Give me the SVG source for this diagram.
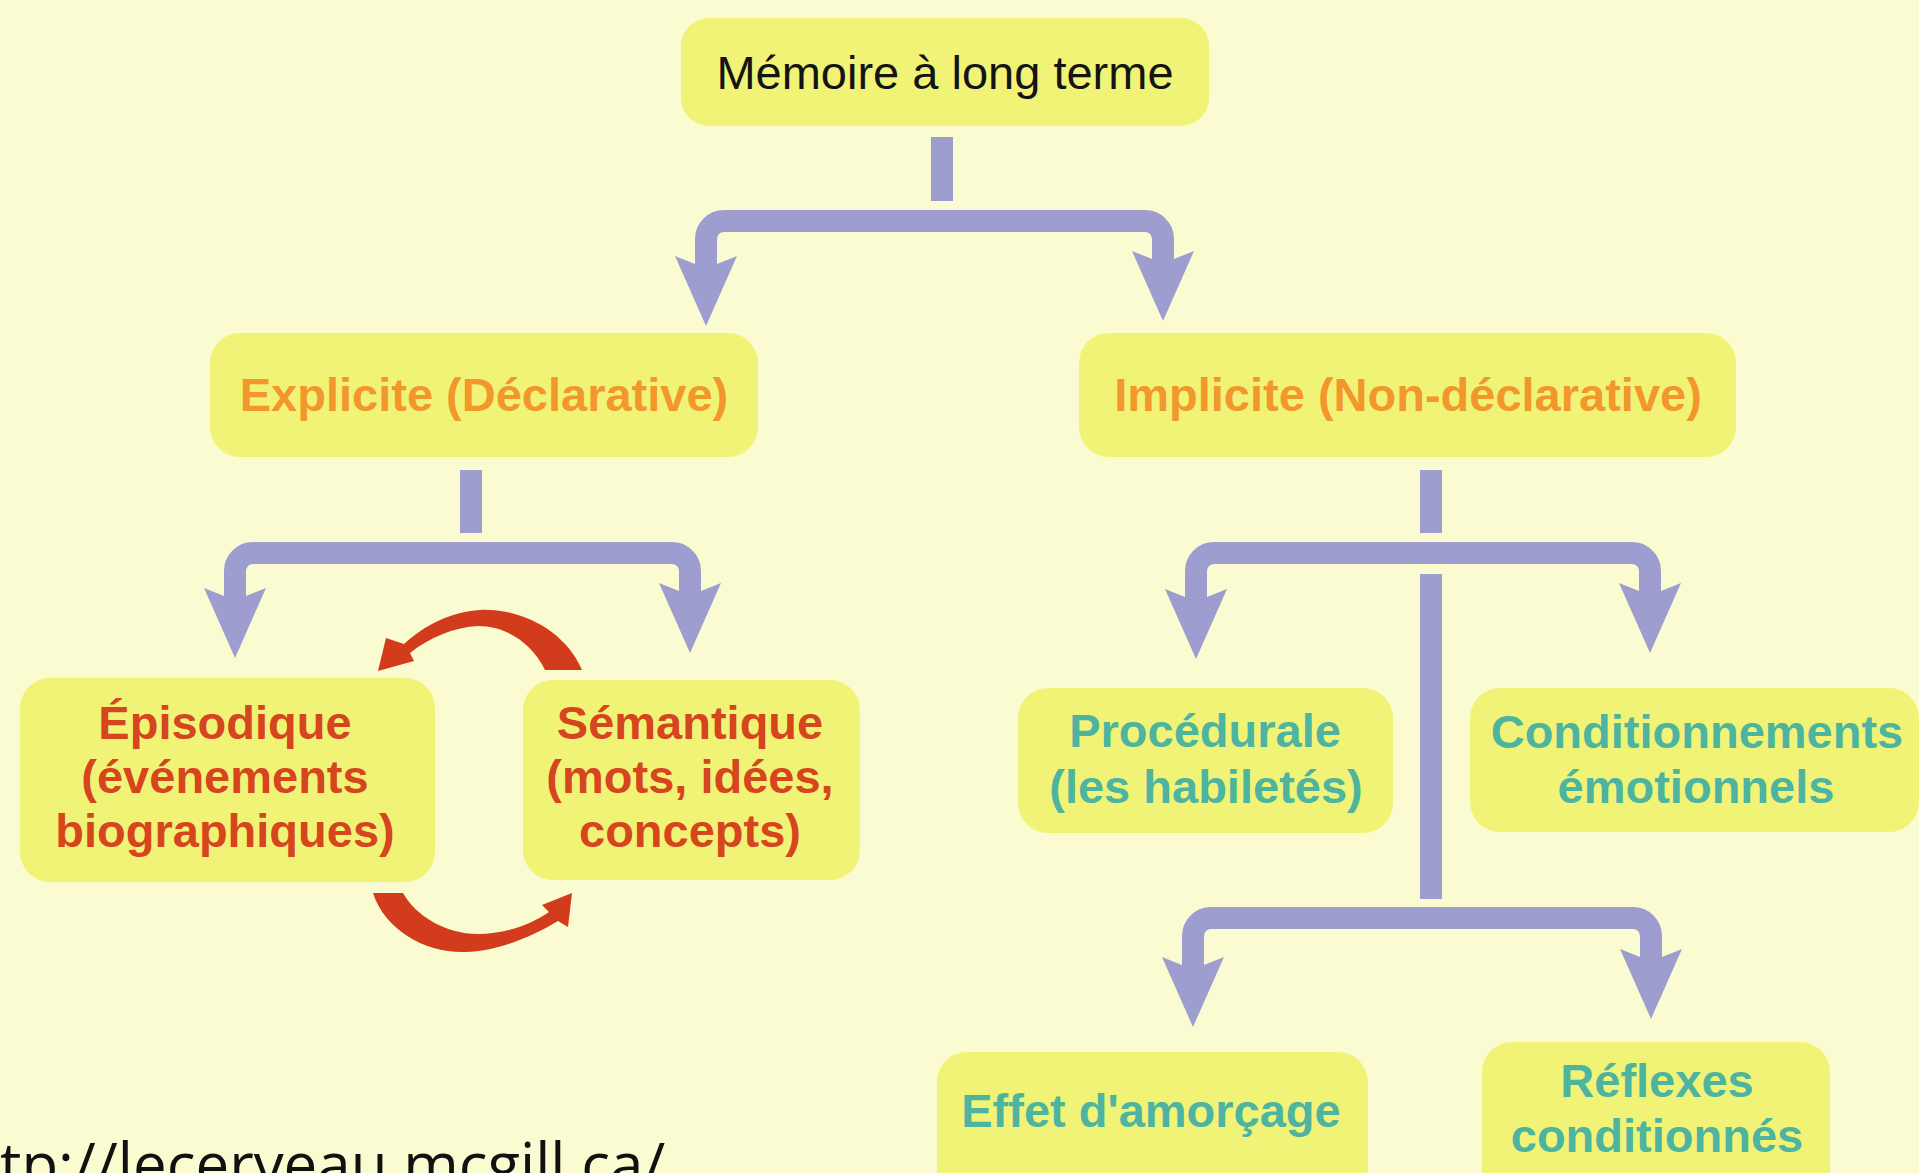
<svg xmlns="http://www.w3.org/2000/svg" xmlns:xlink="http://www.w3.org/1999/xlink" width="1919" height="1173" viewBox="0 0 1919 1173">
<style>
.node rect{fill:#F1F377;}
.t{font-family:"Liberation Sans",Arial,Helvetica,sans-serif;font-weight:bold;font-size:47px;text-anchor:middle;}
.dark{fill:#141414;font-weight:normal;}
.orange{fill:#F2972C;}
.red{fill:#D5451E;}
.teal{fill:#4DB49F;}
.conn{fill:none;stroke:#9D9DD0;stroke-width:22;}
.head{fill:#9D9DD0;}
.loop{fill:#D23B1B;}
.src{font-family:"Open Sans","DejaVu Sans",sans-serif;font-size:60px;fill:#111;}
</style>
<defs>
<path id="ah" d="M0,0 L-31,-70 L-11,-62 L11,-62 L31,-70 Z"/>
</defs>
<rect x="0" y="0" width="1919" height="1173" fill="#FBFBD1"/>

<g id="connectors">
  <line class="conn" x1="942" y1="137" x2="942" y2="201"/>
  <path class="conn" d="M706 270 V239 A18 18 0 0 1 724 221 H1145 A18 18 0 0 1 1163 239 V265"/>
  <use href="#ah" class="head" x="706" y="326"/>
  <use href="#ah" class="head" x="1163" y="321"/>

  <line class="conn" x1="471" y1="470" x2="471" y2="533"/>
  <path class="conn" d="M235 600 V571 A18 18 0 0 1 253 553 H672 A18 18 0 0 1 690 571 V595"/>
  <use href="#ah" class="head" x="235" y="658"/>
  <use href="#ah" class="head" x="690" y="653"/>

  <line class="conn" x1="1431" y1="470" x2="1431" y2="533"/>
  <path class="conn" d="M1196 600 V571 A18 18 0 0 1 1214 553 H1632 A18 18 0 0 1 1650 571 V595"/>
  <use href="#ah" class="head" x="1196" y="659"/>
  <use href="#ah" class="head" x="1650" y="653"/>
  <line class="conn" x1="1431" y1="574" x2="1431" y2="899"/>
  <path class="conn" d="M1193 965 V936 A18 18 0 0 1 1211 918 H1633 A18 18 0 0 1 1651 936 V960"/>
  <use href="#ah" class="head" x="1193" y="1027"/>
  <use href="#ah" class="head" x="1651" y="1019"/>

  <path class="loop" d="M582 670 C565 630 520 608 480 610 C450 612 425 625 404 644 L386 638 L378 671 L414 661 L410 653 C430 637 455 627 478 626 C508 626 533 645 545 670 Z"/>
  <path class="loop" d="M373 893 C385 930 425 953 465 952 C500 951 535 935 558 921 L568 927 L572 893 L542 905 L549 912 C530 925 505 934 478 934 C445 934 415 915 403 893 Z"/>
</g>

<g id="node-memoire" class="node">
  <rect x="681" y="18" width="528" height="108" rx="28"/>
  <text class="t dark" x="945" y="89">Mémoire à long terme</text>
</g>
<g id="node-explicite" class="node">
  <rect x="210" y="333" width="548" height="124" rx="30"/>
  <text class="t orange" x="484" y="411">Explicite (Déclarative)</text>
</g>
<g id="node-implicite" class="node">
  <rect x="1079" y="333" width="657" height="124" rx="30"/>
  <text class="t orange" x="1408" y="411">Implicite (Non-déclarative)</text>
</g>
<g id="node-episodique" class="node">
  <rect x="20" y="678" width="415" height="204" rx="30"/>
  <text class="t red" x="225" y="739">Épisodique</text>
  <text class="t red" x="225" y="793">(événements</text>
  <text class="t red" x="225" y="847">biographiques)</text>
</g>
<g id="node-semantique" class="node">
  <rect x="523" y="680" width="337" height="200" rx="30"/>
  <text class="t red" x="690" y="739">Sémantique</text>
  <text class="t red" x="690" y="793">(mots, idées,</text>
  <text class="t red" x="690" y="847">concepts)</text>
</g>
<g id="node-procedurale" class="node">
  <rect x="1018" y="688" width="375" height="145" rx="30"/>
  <text class="t teal" x="1205" y="747">Procédurale</text>
  <text class="t teal" x="1206" y="803">(les habiletés)</text>
</g>
<g id="node-conditionnements" class="node">
  <rect x="1470" y="688" width="449" height="144" rx="30"/>
  <text class="t teal" x="1697" y="748">Conditionnements</text>
  <text class="t teal" x="1696" y="803">émotionnels</text>
</g>
<g id="node-effet" class="node">
  <rect x="937" y="1052" width="431" height="150" rx="30"/>
  <text class="t teal" x="1151" y="1127">Effet d'amorçage</text>
</g>
<g id="node-reflexes" class="node">
  <rect x="1482" y="1042" width="348" height="160" rx="30"/>
  <text class="t teal" x="1657" y="1097">Réflexes</text>
  <text class="t teal" x="1657" y="1152">conditionnés</text>
</g>

<text class="src" x="0" y="1186">tp://lecerveau.mcgill.ca/</text>
</svg>
